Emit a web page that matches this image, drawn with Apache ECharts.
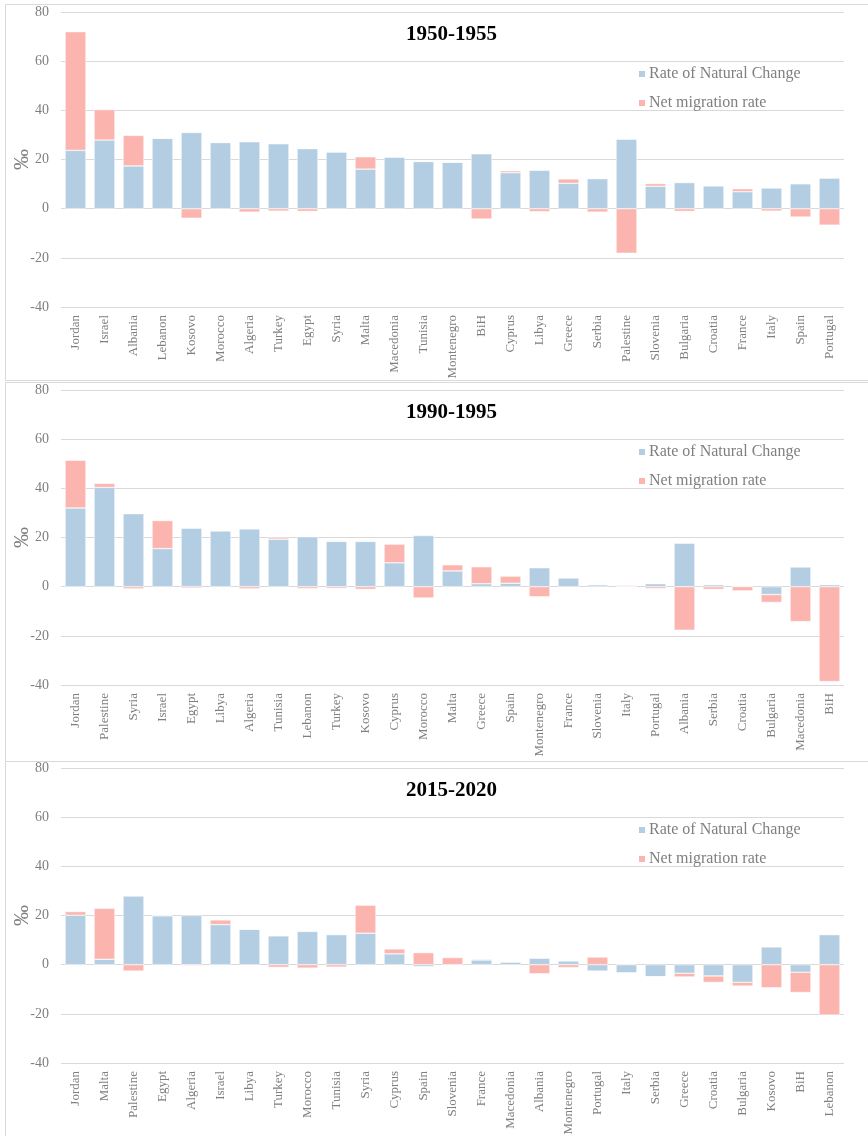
<!DOCTYPE html>
<html>
<head>
<meta charset="utf-8">
<script src="https://cdn.jsdelivr.net/npm/echarts@6/dist/echarts.min.js"></script>
<style>html,body{margin:0;padding:0;background:#fff;}#c{width:868px;height:1136px;}</style>
</head>
<body>
<div id="c"></div>
<script>
// ---- Data ----
const titles = ['1950-1955', '1990-1995', '2015-2020'];
const seriesNames = ['Rate of Natural Change', 'Net migration rate'];
const yTicks = [-40, 80, 20]; // min, max, interval

const cats1950 = ['Jordan','Israel','Albania','Lebanon','Kosovo','Morocco','Algeria','Turkey','Egypt','Syria','Malta','Macedonia','Tunisia','Montenegro','BiH','Cyprus','Libya','Greece','Serbia','Palestine','Slovenia','Bulgaria','Croatia','France','Italy','Spain','Portugal'];
const natural1950 = [23.7,27.9,17.4,28.6,31.0,26.9,27.2,26.4,24.4,23.1,16.1,21.0,19.2,18.9,22.3,14.6,15.6,10.3,12.2,28.2,9.1,10.6,9.3,6.9,8.4,10.1,12.4];
const migration1950 = [48.3,12.4,12.4,0,-3.9,0.2,-1.4,-1.0,-1.1,0,5.0,0,0,0,-4.2,0.8,-1.2,1.8,-1.4,-18.1,1.1,-1.1,0,1.2,-1.0,-3.4,-6.7];

const cats1990 = ['Jordan','Palestine','Syria','Israel','Egypt','Libya','Algeria','Tunisia','Lebanon','Turkey','Kosovo','Cyprus','Morocco','Malta','Greece','Spain','Montenegro','France','Slovenia','Italy','Portugal','Albania','Serbia','Croatia','Bulgaria','Macedonia','BiH'];
const natural1990 = [32.0,40.4,29.7,15.5,23.8,22.7,23.5,19.3,20.3,18.4,18.4,9.7,20.8,6.4,1.2,1.4,7.7,3.6,0.8,0.1,1.2,17.7,0.8,0,-3.2,8.0,0.8];
const migration1990 = [19.4,1.6,-0.9,11.4,-0.6,0,-0.9,0.7,-0.8,-0.7,-1.1,7.6,-4.6,2.5,6.9,2.9,-4.1,0,0,0.4,-0.8,-17.7,-1.1,-1.7,-3.2,-14.2,-38.6];

const cats2015 = ['Jordan','Malta','Palestine','Egypt','Algeria','Israel','Libya','Turkey','Morocco','Tunisia','Syria','Cyprus','Spain','Slovenia','France','Macedonia','Albania','Montenegro','Portugal','Italy','Serbia','Greece','Croatia','Bulgaria','Kosovo','BiH','Lebanon'];
const natural2015 = [20.1,2.2,27.9,19.9,20.0,16.3,14.4,11.7,13.5,12.2,12.8,4.4,-0.8,0,1.9,1.1,2.6,1.5,-2.6,-3.3,-4.9,-3.5,-4.6,-7.2,7.2,-3.1,12.2];
const migration2015 = [1.5,20.7,-2.6,0,-0.4,1.9,0,-1.1,-1.4,-1.0,11.4,2.0,4.9,2.9,0.4,0,-3.7,-1.2,3.1,0.3,0,-1.5,-2.6,-1.5,-9.4,-8.2,-20.5];

const panels = [
  {cats: cats1950, nat: natural1950, mig: migration1950},
  {cats: cats1990, nat: natural1990, mig: migration1990},
  {cats: cats2015, nat: natural2015, mig: migration2015}
];

// ---- Layout / style ----
const serif = '"Liberation Serif","Times New Roman",serif';
const gray = '#7f7f7f';
const colors = ['#b3cde3', '#fbb4ae'];
const gridTops = [12, 390, 768];
const gridH = 295;
const panelBoxes = [[5, 4, 380], [5, 382, 761], [5, 761, 1140]];

const option = {
  backgroundColor: '#fff',
  animation: false,
  color: colors,
  title: [], legend: [], grid: [], xAxis: [], yAxis: [], series: [],
  graphic: panelBoxes.map(b => ({
    type: 'rect', shape: {x: b[0] + 0.5, y: b[1] + 0.5, width: 900, height: b[2] - b[1]},
    style: {fill: 'none', stroke: '#d9d9d9', lineWidth: 1}, silent: true, z: -1
  }))
};

panels.forEach((p, i) => {
  const top = gridTops[i];
  option.grid.push({left: 61, right: 24, top: top, height: gridH, containLabel: false, outerBoundsMode: 'none'});
  option.title.push({
    text: titles[i], left: 406, top: top + 12, padding: 0,
    textStyle: {fontFamily: serif, fontWeight: 'bold', fontSize: 21, color: '#000'}
  });
  option.legend.push({
    data: seriesNames, orient: 'vertical', left: 632, top: top + 49,
    itemWidth: 8, itemHeight: 8, itemGap: 13, icon: 'rect',
    textStyle: {fontFamily: serif, fontSize: 16, color: gray, padding: [0, 0, 0, -2]}
  });
  option.xAxis.push({
    type: 'category', gridIndex: i, data: p.cats, position: 'bottom',
    axisLine: {show: false}, axisTick: {show: false},
    axisLabel: {rotate: 90, interval: 0, fontFamily: serif, fontSize: 13, color: gray, margin: 8}
  });
  option.yAxis.push({
    type: 'value', gridIndex: i, min: yTicks[0], max: yTicks[1], interval: yTicks[2],
    name: '‰', nameLocation: 'middle', nameRotate: 90, nameGap: 28, nameMoveOverlap: false,
    nameTextStyle: {fontFamily: serif, fontSize: 21, color: gray},
    axisLine: {show: false}, axisTick: {show: false},
    axisLabel: {fontFamily: serif, fontSize: 14, color: gray, margin: 12},
    splitLine: {lineStyle: {color: '#d9d9d9', width: 1}}
  });
  option.series.push({
    name: seriesNames[0], type: 'bar', xAxisIndex: i, yAxisIndex: i, stack: 's' + i,
    data: p.nat, barCategoryGap: '28%',
    itemStyle: {color: colors[0], borderColor: '#fff', borderWidth: 0.5}
  });
  option.series.push({
    name: seriesNames[1], type: 'bar', xAxisIndex: i, yAxisIndex: i, stack: 's' + i,
    data: p.mig, barCategoryGap: '28%',
    itemStyle: {color: colors[1], borderColor: '#fff', borderWidth: 0.5}
  });
});

const chart = echarts.init(document.getElementById('c'), null, {renderer: 'canvas'});
chart.setOption(option);
</script>
</body>
</html>
